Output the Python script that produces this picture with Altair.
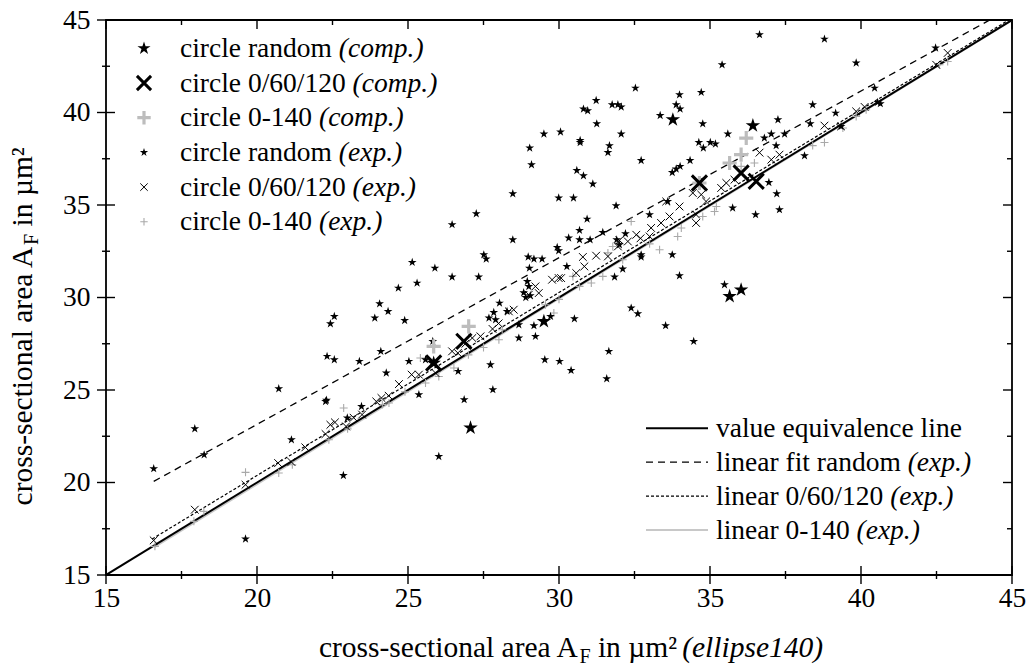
import altair as alt
import pandas as pd

# ---------------- data ----------------
# circle random (exp.)  small stars
RAND_EXP_X = [29.50, 29.03, 29.09, 28.47, 29.99, 27.26, 26.46, 28.47, 27.51, 27.59, 25.14, 25.89, 28.98, 29.17,
              29.44, 29.02, 29.94, 29.99, 26.46, 27.34, 25.30, 24.68, 28.95, 29.00, 30.05,
              24.06, 23.90, 24.34, 24.89, 22.56, 22.43, 22.32, 22.56, 23.39, 24.10, 24.28, 25.03, 25.36, 25.82,
              25.58, 20.72, 22.27, 22.30, 23.46, 22.99, 17.94, 21.14, 18.25, 16.58, 22.86, 19.62, 26.02, 26.86,
              27.81, 27.73, 26.66, 28.67, 29.22, 29.53, 30.02, 28.03, 28.28, 27.68, 27.84, 27.90, 28.67, 29.17,
              28.83, 29.72, 29.05, 28.90,
              36.64, 38.79, 35.40, 39.84, 42.47, 32.53, 33.99, 34.71, 31.23, 30.81, 30.95, 31.76, 31.95, 32.06,
              33.88, 34.01, 33.35, 31.25, 32.06, 34.76, 30.70, 30.70, 31.67, 31.62, 35.59, 37.25, 37.03, 37.47,
              36.80, 37.19, 38.40, 39.16, 38.32, 40.45, 40.64, 40.55, 39.34, 38.13, 34.63, 34.78, 35.01, 35.18,
              34.34, 32.72, 30.59, 30.81, 31.12, 33.75, 33.88, 34.01, 30.48, 31.89, 30.93, 30.68, 30.32, 30.68,
              31.03, 31.45, 33.00, 33.60, 36.95, 37.21, 37.30, 35.75, 36.51, 32.20, 31.91, 32.00, 32.72, 32.72,
              33.75, 33.99, 32.11, 31.84, 30.26, 35.48,
              30.51, 32.39, 32.61, 33.53, 34.46, 31.65, 30.40, 31.58]
RAND_EXP_Y = [38.84, 38.08, 37.18, 35.61, 35.38, 34.53, 33.94, 33.12, 32.31, 32.08, 31.90, 31.59, 32.19, 32.08,
              32.08, 31.59, 32.71, 32.53, 31.11, 31.11, 30.78, 30.51, 30.87, 30.60, 38.95,
              29.66, 28.89, 29.25, 28.76, 28.98, 28.58, 26.82, 26.64, 26.55, 27.09, 25.92, 26.55, 24.75, 27.63,
              26.64, 25.07, 24.38, 24.45, 24.11, 23.49, 22.91, 22.31, 21.50, 20.75, 20.38, 16.95, 21.41, 24.48,
              25.02, 26.37, 26.01, 27.81, 27.90, 26.64, 26.55, 29.70, 29.25, 28.89, 29.19, 28.80, 28.53, 28.48,
              30.26, 28.98, 30.10, 30.00,
              44.21, 43.97, 42.58, 42.68, 43.49, 41.32, 40.96, 41.09, 40.65, 40.19, 40.10, 40.42, 40.42, 40.30,
              40.42, 40.19, 39.84, 39.39, 38.84, 39.39, 38.49, 38.38, 38.21, 37.84, 38.84, 39.61, 38.84, 38.84,
              38.62, 38.21, 40.42, 39.97, 39.39, 41.32, 40.48, 40.55, 39.25, 37.66, 38.38, 38.08, 38.38, 38.30,
              37.41, 37.41, 36.87, 36.58, 36.14, 36.76, 36.95, 37.09, 35.38, 34.96, 34.24, 33.63, 33.22, 33.12,
              33.12, 33.52, 34.48, 35.19, 36.22, 35.61, 34.75, 34.84, 34.48, 33.45, 33.12, 32.85, 32.31, 32.19,
              32.31, 31.18, 31.54, 31.11, 31.68, 30.69,
              28.85, 29.43, 29.12, 28.48, 27.63, 27.09, 26.06, 25.61]

# circle 0/60/120 (exp.)  small x
TRI_EXP_X = [16.58, 17.94, 19.62, 20.70, 21.14, 21.60, 22.27, 22.43, 22.58, 22.95, 23.20, 23.48, 23.95, 24.12,
             24.36, 24.70, 25.12, 25.36, 25.91, 26.46, 26.65, 26.90, 27.13, 27.40, 27.80, 28.00, 28.34, 28.50,
             29.00, 29.33, 29.22, 29.77, 29.99, 30.07, 30.79, 31.23, 30.84, 30.57, 31.62, 32.00, 31.95, 32.28,
             32.56, 32.70, 33.00, 33.05, 33.38, 33.66, 33.99, 33.55, 34.54, 34.54, 34.43, 34.71, 34.87, 35.37,
             35.54, 35.81, 36.64, 37.03, 37.30, 38.79, 39.34, 39.84, 40.12, 42.49, 42.87]
TRI_EXP_Y = [16.87, 18.53, 19.88, 21.05, 21.11, 21.90, 22.62, 23.12, 23.25, 23.03, 23.50, 23.67, 24.38, 24.57,
             24.69, 25.32, 25.83, 25.83, 25.92, 27.09, 27.00, 27.50, 27.81, 27.90, 28.30, 28.60, 29.25, 29.34,
             30.15, 30.24, 30.60, 30.96, 31.05, 31.05, 32.19, 32.26, 31.68, 31.32, 32.22, 33.09, 32.76, 33.03,
             33.39, 33.20, 33.30, 33.76, 34.03, 34.38, 34.92, 35.19, 34.03, 34.48, 35.65, 35.56, 35.19, 35.92,
             36.19, 36.37, 37.83, 37.45, 37.72, 39.29, 39.25, 40.06, 40.30, 42.58, 43.22]

# circle 0-140 (exp.)  small gray +
ANG_EXP_X = [16.62, 17.91, 18.24, 19.62, 20.72, 21.17, 22.38, 22.87, 23.00, 24.15, 24.37, 24.90, 25.41, 25.58,
             26.02, 26.52, 27.00, 27.50, 28.01, 28.12, 29.55, 29.83, 30.00, 30.46, 30.68, 31.07, 31.45, 31.62,
             31.78, 32.11, 32.39, 33.00, 33.33, 33.93, 34.05, 34.76, 35.15, 35.21, 36.03, 36.47, 38.40, 38.79,
             39.40, 39.84, 40.17, 42.60, 42.87]
ANG_EXP_Y = [16.55, 17.90, 18.44, 20.55, 20.51, 20.96, 22.31, 24.03, 22.90, 24.21, 24.30, 24.90, 26.73, 25.38,
             25.73, 26.19, 26.90, 27.30, 27.72, 28.26, 29.61, 29.16, 29.90, 31.14, 30.60, 30.78, 31.14, 32.41,
             32.76, 32.04, 34.11, 32.90, 32.58, 33.30, 33.76, 34.38, 34.65, 34.92, 37.09, 37.27, 38.21, 38.38,
             39.16, 39.79, 40.15, 42.58, 42.76]

# computed series (large markers)
RAND_COMP_X = [27.07, 25.85, 29.50, 33.77, 36.42, 36.03, 35.65]
RAND_COMP_Y = [22.95, 26.46, 28.71, 39.61, 39.29, 30.42, 30.06]
TRI_COMP_X = [25.85, 26.85, 36.03, 36.53, 34.65]
TRI_COMP_Y = [26.46, 27.63, 36.73, 36.28, 36.19]
ANG_COMP_X = [27.01, 25.85, 36.20, 36.03, 35.65, 34.65]
ANG_COMP_Y = [28.44, 27.36, 38.62, 37.72, 37.27, 36.19]

# fitted / reference lines
LINE_NAMES = ["value equivalence line", "linear fit random", "linear 0/60/120", "linear 0-140"]
LINE_NOTES = ["", "(exp.)", "(exp.)", "(exp.)"]
LINE_SLOPE = [1.0, 0.901, 0.989, 1.003]
LINE_INTERCEPT = [0.0, 5.12, 0.60, -0.15]
LINE_X0 = [15.0, 16.58, 16.53, 16.60]
LINE_X1 = [45.0, 45.0, 45.0, 45.0]

# legend of the point series
PT_LABELS = ["circle random", "circle 0/60/120", "circle 0-140", "circle random", "circle 0/60/120", "circle 0-140"]
PT_NOTES = ["(comp.)", "(comp.)", "(comp.)", "(exp.)", "(exp.)", "(exp.)"]

# axes
X_TICKS = [15, 20, 25, 30, 35, 40, 45]
Y_TICKS = [15, 20, 25, 30, 35, 40, 45]
MINOR_TICKS = [17.5, 22.5, 27.5, 32.5, 37.5, 42.5]
X_TITLE = ["cross-sectional area A", "F", "in \u00b5m\u00b2", "(ellipse140)"]
Y_TITLE = ["cross-sectional area A", "F", "in \u00b5m\u00b2"]

# ---------------- styling ----------------
FONT = "Liberation Serif"
FS = 27.5
TFS = 29.5
W, H = 906, 555
PAD = {"left": 106, "top": 20, "right": 15, "bottom": 91}

STAR = ("M0,-1L0.2245,-0.309L0.951,-0.309L0.363,0.118L0.588,0.809L0,0.382"
        "L-0.588,0.809L-0.363,0.118L-0.951,-0.309L-0.2245,-0.309Z")
XSHAPE = "M-1,-1L1,1M-1,1L1,-1"
PLUS = "M-1,0L1,0M0,-1L0,1"

GRAY_SMALL = "#a9a9a9"
GRAY_BIG = "#bdbdbd"
GRAY_LINE = "#c8c8c8"

XS = alt.Scale(domain=[15, 45], nice=False, zero=False)
YS = alt.Scale(domain=[15, 45], nice=False, zero=False)
XAX = alt.Axis(values=X_TICKS, format="d", ticks=False, domain=False, grid=False, title=None,
               labelFont=FONT, labelFontSize=FS, labelColor="black", labelPadding=9, labelFlush=False)
YAX = alt.Axis(values=Y_TICKS, format="d", ticks=False, domain=False, grid=False, title=None,
               labelFont=FONT, labelFontSize=FS, labelColor="black", labelPadding=16, labelFlush=False)

ONE = alt.Data(values=[{"a": 1}])

REG = {' ': 250, '(': 333, ')': 333, '-': 333, '.': 250, '/': 278, 'A': 722, 'F': 556, 'a': 444, 'c': 444,
       'd': 500, 'e': 444, 'f': 333, 'i': 278, 'l': 278, 'm': 778, 'n': 500, 'o': 500, 'p': 500, 'q': 500,
       'r': 333, 's': 389, 't': 278, 'u': 500, 'v': 500, '\u00b5': 500, '\u00b2': 300}
ITA = {' ': 250, '(': 333, ')': 333, '.': 250, 'c': 444, 'o': 500, 'm': 722, 'p': 500, 'e': 444, 'x': 444,
       'l': 278, 'i': 278, 's': 389}


def tw(s, size, table):
    return sum(table.get(ch, 500) for ch in s) * size / 1000.0


def text_piece(s, x, y, size=FS, italic=False, angle=0, dx=0, dy=0, align="left", baseline="alphabetic"):
    kw = dict(text=s, font=FONT, fontSize=size, align=align, baseline=baseline, color="black")
    if dx:
        kw["dx"] = dx
    if dy:
        kw["dy"] = dy
    if italic:
        kw["fontStyle"] = "italic"
    if angle:
        kw["angle"] = angle
    return alt.Chart(ONE).mark_text(**kw).encode(x=alt.value(x), y=alt.value(y))


def points(xs, ys, shape, size, color, filled, sw):
    df = pd.DataFrame({"x": xs, "y": ys})
    kw = dict(shape=shape, size=size, color=color, filled=filled, opacity=1, strokeWidth=sw)
    return alt.Chart(df).mark_point(**kw).encode(
        x=alt.X("x:Q", scale=XS, axis=XAX), y=alt.Y("y:Q", scale=YS, axis=YAX))


layers = []

# ---- lines ----
line_styles = [
    dict(color="black", strokeWidth=2.0),
    dict(color="black", strokeWidth=1.3, strokeDash=[7, 5]),
    dict(color="black", strokeWidth=1.2, strokeDash=[3, 2]),
    dict(color=GRAY_LINE, strokeWidth=2.0),
]
draw_order = [3, 2, 1, 0]
for i in draw_order:
    df = pd.DataFrame({
        "x": [LINE_X0[i], LINE_X1[i]],
        "y": [LINE_SLOPE[i] * LINE_X0[i] + LINE_INTERCEPT[i], LINE_SLOPE[i] * LINE_X1[i] + LINE_INTERCEPT[i]],
    })
    layers.append(alt.Chart(df).mark_line(clip=True, **line_styles[i]).encode(
        x=alt.X("x:Q", scale=XS, axis=XAX), y=alt.Y("y:Q", scale=YS, axis=YAX)))

# ---- points ----
layers.append(points(ANG_EXP_X, ANG_EXP_Y, PLUS, 64, GRAY_SMALL, False, 1.1))
layers.append(points(TRI_EXP_X, TRI_EXP_Y, XSHAPE, 60, "black", False, 1.0))
layers.append(points(RAND_EXP_X, RAND_EXP_Y, STAR, 85, "black", True, 0))
layers.append(points(ANG_COMP_X, ANG_COMP_Y, PLUS, 200, GRAY_BIG, False, 3.2))
layers.append(points(TRI_COMP_X, TRI_COMP_Y, XSHAPE, 230, "black", False, 3.0))
layers.append(points(RAND_COMP_X, RAND_COMP_Y, STAR, 230, "black", True, 0))

# ---- ticks (bottom/left crossing the frame, top/right inward) ----
maj = pd.DataFrame({"v": X_TICKS})
mnr = pd.DataFrame({"v": MINOR_TICKS})
for d, half, inner in ((maj, 9, 9), (mnr, 4, 5)):
    layers.append(alt.Chart(d).mark_rule(color="black", strokeWidth=1.4).encode(
        x=alt.X("v:Q", scale=XS, axis=XAX), y=alt.value(H - half), y2=alt.value(H + half)))
    layers.append(alt.Chart(d).mark_rule(color="black", strokeWidth=1.4).encode(
        x=alt.X("v:Q", scale=XS, axis=XAX), y=alt.value(0), y2=alt.value(inner)))
    layers.append(alt.Chart(d).mark_rule(color="black", strokeWidth=1.4).encode(
        y=alt.Y("v:Q", scale=YS, axis=YAX), x=alt.value(-half), x2=alt.value(half)))
    layers.append(alt.Chart(d).mark_rule(color="black", strokeWidth=1.4).encode(
        y=alt.Y("v:Q", scale=YS, axis=YAX), x=alt.value(W - inner), x2=alt.value(W)))

# ---- legend of the point series (upper left) ----
leg_shapes = [(STAR, 190, "black", True, 0), (XSHAPE, 200, "black", False, 3.0),
              (PLUS, 180, GRAY_BIG, False, 3.2), (STAR, 75, "black", True, 0),
              (XSHAPE, 55, "black", False, 1.0), (PLUS, 55, GRAY_SMALL, False, 1.1)]
sym_x, txt_x, row0, row_h = 38, 74, 28.3, 34.7
SP = tw(" ", FS, REG)
for i, (lab, note) in enumerate(zip(PT_LABELS, PT_NOTES)):
    cy = row0 + i * row_h
    shp, sz, col, fil, sw = leg_shapes[i]
    layers.append(alt.Chart(ONE).mark_point(shape=shp, size=sz, color=col, filled=fil, opacity=1,
                                             strokeWidth=sw).encode(x=alt.value(sym_x), y=alt.value(cy)))
    layers.append(text_piece(lab, txt_x, cy + 8.5))
    layers.append(text_piece(note, txt_x + tw(lab, FS, REG) + SP, cy + 8.5, italic=True))

# ---- legend of the lines (lower right) ----
lx0, lx1, ltx, lrow0, lrow_h = 540, 602, 610, 408.3, 33.9
for i, (lab, note) in enumerate(zip(LINE_NAMES, LINE_NOTES)):
    cy = lrow0 + i * lrow_h
    layers.append(alt.Chart(ONE).mark_rule(**line_styles[i]).encode(
        x=alt.value(lx0), x2=alt.value(lx1), y=alt.value(cy)))
    layers.append(text_piece(lab, ltx, cy + 8.5))
    if note:
        layers.append(text_piece(note, ltx + tw(lab, FS, REG) + SP, cy + 8.5, italic=True))

# ---- axis titles with subscript ----
SUB = TFS * 0.68
TSP = tw(" ", TFS, REG)
w0 = tw(X_TITLE[0], TFS, REG)
w1 = tw(X_TITLE[1], SUB, REG)
w2 = tw(X_TITLE[2], TFS, REG)
w3 = tw(X_TITLE[3], TFS, ITA)
xt_start = W / 2 + 12 - (w0 + w1 + w2 + w3 + 2 * TSP) / 2
xt_base = 637
layers.append(text_piece(X_TITLE[0], xt_start, xt_base, size=TFS))
layers.append(text_piece(X_TITLE[1], xt_start + w0, xt_base + 6, size=SUB))
layers.append(text_piece(X_TITLE[2], xt_start + w0 + w1 + TSP, xt_base, size=TFS))
layers.append(text_piece(X_TITLE[3], xt_start + w0 + w1 + w2 + 2 * TSP, xt_base, size=TFS, italic=True))

v0 = tw(Y_TITLE[0], TFS, REG)
v1 = tw(Y_TITLE[1], SUB, REG)
v2 = tw(Y_TITLE[2], TFS, REG)
yt_x = -74
yt_anchor = H / 2 + 30 + (v0 + v1 + v2 + TSP) / 2
layers.append(text_piece(Y_TITLE[0], yt_x, yt_anchor, size=TFS, angle=270))
layers.append(text_piece(Y_TITLE[1], yt_x, yt_anchor, size=SUB, angle=270, dx=v0, dy=6))
layers.append(text_piece(Y_TITLE[2], yt_x, yt_anchor, size=TFS, angle=270, dx=v0 + v1 + TSP))

chart = alt.layer(*layers).properties(
    width=W, height=H, padding=PAD, autosize=alt.AutoSizeParams(type="none"),
    background="white",
).configure_view(stroke="black", strokeWidth=1.8)

chart.save("out.html", embed_options={"renderer": "svg", "actions": False})
